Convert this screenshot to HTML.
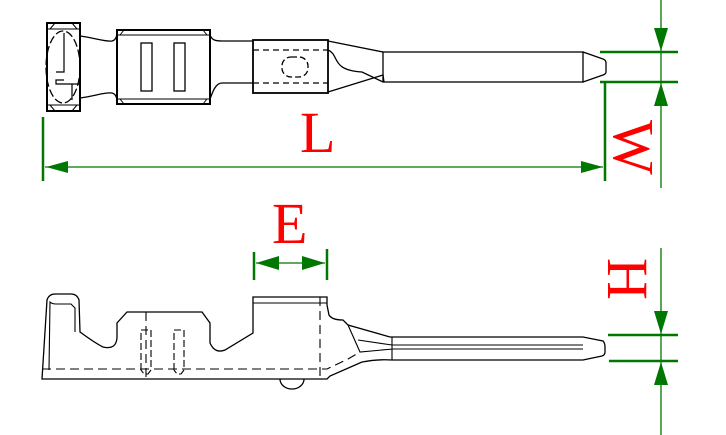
<!DOCTYPE html>
<html><head><meta charset="utf-8"><style>
html,body{margin:0;padding:0;background:#fff;}
svg{display:block;}
text{font-family:"Liberation Serif",serif;fill:#ff0000;}
</style></head><body>
<svg width="726" height="435" viewBox="0 0 726 435" xmlns="http://www.w3.org/2000/svg">
<g fill="none" stroke="#000" stroke-width="1.3">
 <!-- TOP VIEW -->
 <rect x="47" y="23" width="33" height="88" stroke-width="2"/>
 <path d="M47 29 H80 M50 29 L55 23 M77 29 L72 23 M47 105 H80 M50 105 L55 111 M77 105 L72 111" stroke-width="1"/>
 <ellipse cx="63" cy="67" rx="17" ry="36" stroke-dasharray="8,3"/>
 <path d="M64 33 V72 H56 M64 80 H56 V84 H72 V100 M72 84 H80" stroke-width="1.2"/>
 <path d="M80 36 C95 38 105 42 112 41 C117 40 117 33 117 33 M80 98 C95 96 105 92 112 93 C117 94 117 101 117 101"/>
 <rect x="117" y="30" width="93" height="74" stroke-width="2"/>
 <path d="M117 35 H210 M120 35 L124 30 M207 35 L203 30 M117 99 H210 M120 99 L124 104 M207 99 L203 104" stroke-width="1"/>
 <rect x="141" y="43" width="11" height="48"/>
 <rect x="174" y="43" width="11" height="48"/>
 <path d="M210 35 C212 40 215 41 222 41 H253 M210 99 C212 94 215 83 222 83 H253"/>
 <rect x="253" y="40" width="75" height="53" stroke-width="1.8"/>
 <path d="M253 50 H328 M253 83 H328" stroke-dasharray="6,4"/>
 <rect x="282" y="57" width="26" height="20" rx="9" stroke-dasharray="6,3"/>
 <path d="M328 41 L383 52 M328 92 L383 75 L384 82 M328 50 C340 55 330 70 362 72 L383 82"/>
 <rect x="383" y="52" width="200" height="30"/>
 <path d="M583 52 L603 59 Q606 60 606 63 V72 Q606 74 603 75 L583 82"/>
 <!-- BOTTOM VIEW -->
 <path d="M42 379 L47 300 Q49 294 55 294 H71 Q77 294 79 300 L80 332 Q95 343 103 347 Q116 350 117 338 V323 L127 312 H202 L210 323 V343 Q215 354 225 350 L253 333 V297 H327 V305 L329 315 Q332 320 343 320 L348 325 L390 337 H583 L603 341 Q605 343 605 347 V352 Q605 355 602 356 L583 360 H392 Q378 359 362 362 L330 376 L327 379 Z"/>
 <path d="M253 303 H327 M49 370 L50 302 Q52 304 56 304 H71 L75 308 V332" stroke-width="1.1"/>
 <path d="M42 369 H327 L348 359 L360 352 M320 297 V379 M146 312 V379" stroke-dasharray="9,5" stroke-width="1.1"/>
 <path d="M141 370 V330 H151 V370 L148 374 H144 Z M174 370 V330 H184 V370 L181 374 H177 Z" stroke-dasharray="7,3" stroke-width="1.1"/>
 <path d="M348 325 L360 352 L393 349 H583 M358 340 L392 345 H583 M392 337 V360" stroke-width="1.1"/>
 <path d="M280 379 A12 10 0 0 0 304 379"/>
</g>
<g stroke="#007700" fill="#007700">
 <!-- L -->
 <line x1="43" y1="117" x2="43" y2="181" stroke-width="2.5"/>
 <line x1="605" y1="83" x2="605" y2="181" stroke-width="2.5"/>
 <line x1="45" y1="167" x2="603" y2="167" stroke-width="1.3"/>
 <polygon points="46,167 68,161 68,173" stroke="none"/>
 <polygon points="603,167 581,161 581,173" stroke="none"/>
 <!-- W -->
 <line x1="600" y1="52" x2="678" y2="52" stroke-width="2.5"/>
 <line x1="600" y1="82" x2="678" y2="82" stroke-width="2.5"/>
 <line x1="661" y1="0" x2="661" y2="188" stroke-width="1.3"/>
 <polygon points="661,51 654,28 668,28" stroke="none"/>
 <polygon points="661,83 654,106 668,106" stroke="none"/>
 <!-- H -->
 <line x1="608" y1="335" x2="678" y2="335" stroke-width="2.5"/>
 <line x1="609" y1="361" x2="678" y2="361" stroke-width="2.5"/>
 <line x1="661" y1="248" x2="661" y2="435" stroke-width="1.3"/>
 <polygon points="661,334 654,311 668,311" stroke="none"/>
 <polygon points="661,362 654,385 668,385" stroke="none"/>
 <!-- E -->
 <line x1="254" y1="252" x2="254" y2="280" stroke-width="2.5"/>
 <line x1="327" y1="249" x2="327" y2="280" stroke-width="2.5"/>
 <line x1="256" y1="263" x2="325" y2="263" stroke-width="1.3"/>
 <polygon points="256,263 279,256 279,270" stroke="none"/>
 <polygon points="325,263 302,256 302,270" stroke="none"/>
</g>
<text x="300" y="152" font-size="58">L</text>
<text x="272" y="243" font-size="58">E</text>
<text transform="translate(614,120) rotate(90)" font-size="58">W</text>
<text transform="translate(608,258) rotate(90)" font-size="58">H</text>
</svg>
</body></html>
